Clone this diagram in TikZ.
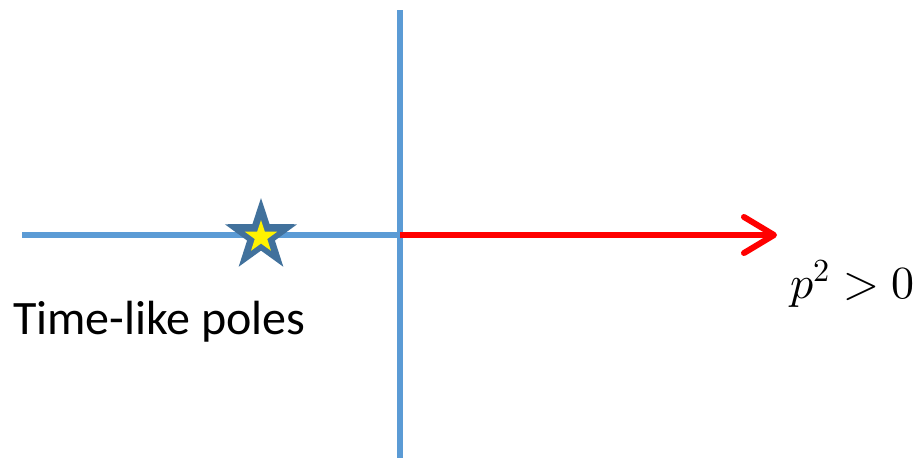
\documentclass[tikz,border=0pt]{standalone}
\usepackage{fontspec}
\usepackage{unicode-math}
\setmainfont{Carlito}
\setmathfont{Latin Modern Math}
\usetikzlibrary{shapes.geometric,arrows.meta}
\definecolor{axisblue}{HTML}{5B9BD5}
\definecolor{stardark}{HTML}{41719C}
\tikzset{
  axis/.style={draw=axisblue, line width=6pt},
  ray/.style={draw=red, line width=6pt, -{Straight Barb[length=30pt,width=36pt,round]}},
  starshape/.style={star, star points=5, star point ratio=2.6, inner sep=0pt},
}
\begin{document}
\begin{tikzpicture}[x=1pt,y=-1pt]
\useasboundingbox (0,0) rectangle (919,458);
\coordinate (L) at (22,235);
\coordinate (O) at (400,235);
\coordinate (T) at (400,10);
\coordinate (B) at (400,458);
\coordinate (E) at (777,235);
\draw[axis] (L) -- (O);
\draw[axis] (T) -- (B);
\draw[ray] (O) -- (E);
\node[starshape, fill=stardark, minimum size=76pt] (s) at (261,236) {};
\node[starshape, fill=yellow, minimum size=34pt] (s2) at (261,237) {};
\node[font=\fontsize{48}{54}\selectfont, anchor=base west, inner sep=0pt] (lab) at (13,334) {Time-like poles};
\node[font=\fontsize{46}{52}\selectfont, anchor=base east, inner sep=0pt] (p) at (915,298) {$p^2>0$};
\end{tikzpicture}
\end{document}
